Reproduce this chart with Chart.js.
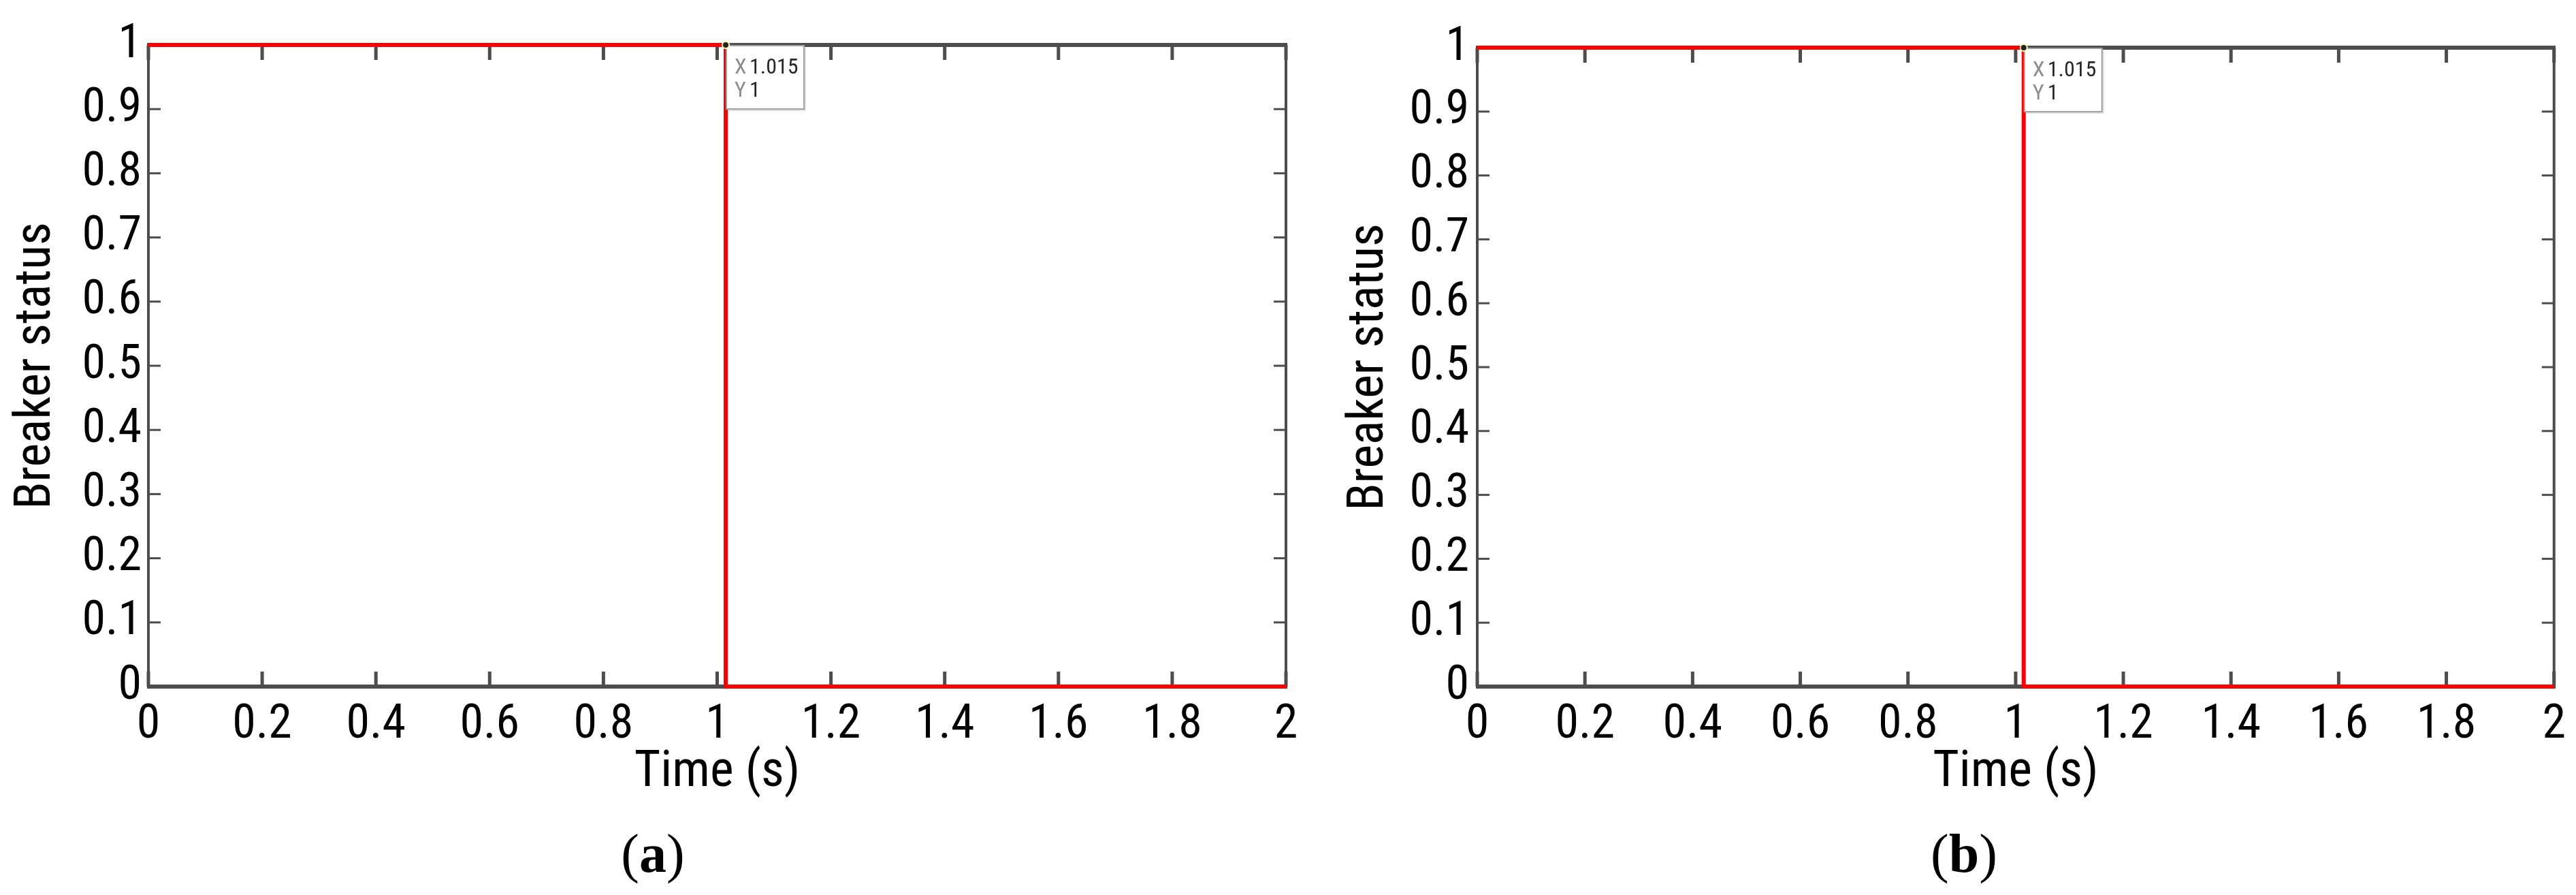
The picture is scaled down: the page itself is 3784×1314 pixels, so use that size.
<!DOCTYPE html>
<html lang="en">
<head>
  <meta charset="UTF-8">
  <title>Breaker status</title>
  <script src="https://cdn.jsdelivr.net/npm/chart.js"></script>
  <style>
    body { margin: 0; background: #fff; width: 3784px; height: 1314px; overflow: hidden; position: relative; }
    canvas { position: absolute; top: 0; }
    .cap { position: absolute; top: 1205px; width: 200px; text-align: center;
           font: 80px 'Liberation Serif', 'Times New Roman', serif; color: #000; line-height: 96px; }
  </style>
</head>
<body>
  <canvas id="chartA" width="1960" height="1200" style="left:0px;width:1960px;height:1200px"></canvas>
  <canvas id="chartB" width="1884" height="1200" style="left:1900px;width:1884px;height:1200px"></canvas>
  <div class="cap" style="left:859px">(<b>a</b>)</div>
  <div class="cap" style="left:2785px">(<b>b</b>)</div>

  <script>
    // data
    const timeS = [0, 1.015, 1.015, 2];
    const statusA = [1, 1, 0, 0];
    const statusB = [1, 1, 0, 0];

    const xTicks = [0, 0.2, 0.4, 0.6, 0.8, 1, 1.2, 1.4, 1.6, 1.8, 2];
    const xTickLabels = ['0', '0.2', '0.4', '0.6', '0.8', '1', '1.2', '1.4', '1.6', '1.8', '2'];
    const yTicks = [0, 0.1, 0.2, 0.3, 0.4, 0.5, 0.6, 0.7, 0.8, 0.9, 1];
    const yTickLabels = ['0', '0.1', '0.2', '0.3', '0.4', '0.5', '0.6', '0.7', '0.8', '0.9', '1'];

    // data tip shown on both panels
    const tipX = 1.015;
    const tipY = 1;

    const FONT = "'Noto Sans Condensed', 'Roboto Condensed', 'Liberation Sans Narrow', 'DejaVu Sans Condensed', sans-serif";
    const AXIS = '#4d4d4d';

    // box round the plot with inward tick marks (MATLAB style)
    const framePlugin = {
      id: 'frame',
      beforeDatasetsDraw(chart) {
        const { ctx, chartArea: a, scales: { x, y } } = chart;
        const seg = (x1, y1, x2, y2) => { ctx.beginPath(); ctx.moveTo(x1, y1); ctx.lineTo(x2, y2); ctx.stroke(); };
        ctx.save();
        ctx.strokeStyle = AXIS;
        ctx.lineCap = 'butt';
        ctx.lineWidth = 5;
        x.ticks.forEach(t => {
          const px = x.getPixelForValue(t.value);
          seg(px, a.bottom, px, a.bottom - 22);
          seg(px, a.top, px, a.top + 22);
        });
        ctx.lineWidth = 3;
        y.ticks.forEach(t => {
          const py = y.getPixelForValue(t.value);
          seg(a.left, py, a.left + 18, py);
          seg(a.right, py, a.right - 18, py);
        });
        ctx.lineWidth = 4;
        seg(a.left, a.top - 3, a.left, a.bottom + 3);
        seg(a.right, a.top - 3, a.right, a.bottom + 3);
        ctx.lineWidth = 6;
        seg(a.left - 2, a.top, a.right + 2, a.top);
        seg(a.left - 2, a.bottom, a.right + 2, a.bottom);
        ctx.restore();
      }
    };

    // data tip box
    const tipPlugin = {
      id: 'datatip',
      afterDatasetsDraw(chart) {
        const { ctx, scales: { x, y } } = chart;
        const px = x.getPixelForValue(tipX);
        const py = y.getPixelForValue(tipY);
        const bx = px + 1, by = py + 1, bw = 114, bh = 93;
        ctx.save();
        ctx.fillStyle = 'rgba(0,0,0,0.12)';
        ctx.fillRect(bx + 3, by + 3, bw, bh);
        ctx.fillStyle = '#fff';
        ctx.fillRect(bx, by, bw, bh);
        ctx.strokeStyle = '#a0a0a0';
        ctx.lineWidth = 2;
        ctx.strokeRect(bx, by, bw, bh);
        ctx.font = '32px ' + FONT;
        ctx.textBaseline = 'alphabetic';
        ctx.fillStyle = '#8c8c8c';
        ctx.fillText('X', bx + 12, by + 41);
        ctx.fillText('Y', bx + 12, by + 75);
        ctx.fillStyle = '#262626';
        ctx.fillText(String(tipX), bx + 34, by + 41);
        ctx.fillText(String(tipY), bx + 34, by + 75);
        ctx.beginPath();
        ctx.arc(px, py, 5, 0, Math.PI * 2);
        ctx.fillStyle = '#222';
        ctx.fill();
        ctx.strokeStyle = '#ffffb0';
        ctx.lineWidth = 2;
        ctx.stroke();
        ctx.restore();
      }
    };

    function makePanel(id, status, box) {
      const points = timeS.map((t, i) => ({ x: t, y: status[i] }));
      return new Chart(document.getElementById(id), {
        type: 'line',
        data: {
          datasets: [{
            data: points,
            borderColor: '#ff0000',
            borderWidth: 6,
            pointRadius: 0,
            tension: 0,
            clip: false
          }]
        },
        options: {
          responsive: false,
          animation: false,
          devicePixelRatio: 1,
          events: [],
          layout: { padding: { left: 0, top: box.top, right: box.padRight, bottom: 0 } },
          plugins: { legend: { display: false }, tooltip: { enabled: false } },
          scales: {
            x: {
              type: 'linear',
              min: 0,
              max: 2,
              grid: { display: false, drawTicks: false },
              border: { display: false },
              afterBuildTicks: s => { s.ticks = xTicks.map(v => ({ value: v })); },
              afterFit: s => { s.height = box.xHeight; },
              ticks: {
                autoSkip: false,
                maxRotation: 0,
                padding: 15,
                color: '#000',
                font: { family: FONT, size: 70 },
                callback: (v, i) => xTickLabels[i]
              },
              title: {
                display: true,
                text: 'Time (s)',
                color: '#000',
                font: { family: FONT, size: 74 },
                padding: { top: 0, bottom: 20 }
              }
            },
            y: {
              type: 'linear',
              min: 0,
              max: 1,
              grid: { display: false, drawTicks: false },
              border: { display: false },
              afterBuildTicks: s => { s.ticks = yTicks.map(v => ({ value: v })); },
              afterFit: s => { s.width = box.yWidth; },
              ticks: {
                autoSkip: false,
                padding: box.yPad,
                color: '#000',
                font: { family: FONT, size: 70 },
                callback: (v, i) => yTickLabels[i]
              },
              title: {
                display: true,
                text: 'Breaker status',
                color: '#000',
                font: { family: FONT, size: 74 },
                padding: { top: box.titleLeft, bottom: 0 }
              }
            }
          }
        },
        plugins: [framePlugin, tipPlugin]
      });
    }

    makePanel('chartA', statusA, { top: 66, padRight: 71, yWidth: 218, xHeight: 192, yPad: 10, titleLeft: 10 });
    makePanel('chartB', statusB, { top: 70, padRight: 21, yWidth: 270, xHeight: 192, yPad: 12, titleLeft: 68 });
  </script>
</body>
</html>
